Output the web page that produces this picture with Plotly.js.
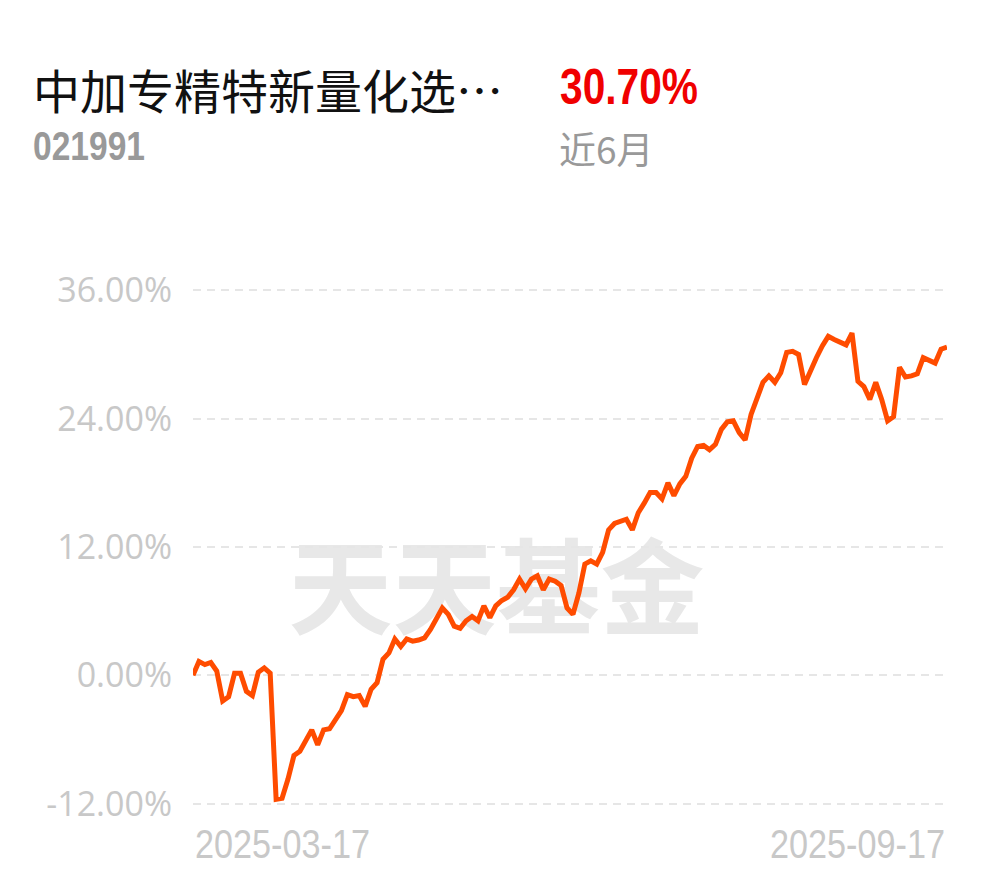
<!DOCTYPE html>
<html>
<head>
<meta charset="utf-8">
<script src="https://cdn.plot.ly/plotly-3.0.1.min.js"></script>
<style>
html,body{margin:0;padding:0;background:#fff;}
#chart{width:990px;height:878px;}
</style>
</head>
<body>
<div id="chart"></div>
<script>
// ---- data ----
const fundName = "中加专精特新量化选…";
const fundCode = "021991";
const periodReturn = "30.70%";
const periodLabel = "近6月";
const watermark = "天天基金";
const xTickLabels = ["2025-03-17", "2025-09-17"];
const yTickVals = [-12, 0, 12, 24, 36];
const yTickText = ["-12.00%", "0.00%", "12.00%", "24.00%", "36.00%"];
// cumulative return (%) per trading day, 2025-03-17 .. 2025-09-17
const returns = [
  0.0, 1.3, 1.0, 1.2, 0.4, -2.4, -2.0, 0.2, 0.2, -1.5,
  -1.9, 0.3, 0.7, 0.2, -11.6, -11.5, -9.7, -7.5, -7.1, -6.0,
  -5.1, -6.5, -5.1, -5.0, -4.1, -3.3, -1.8, -2.0, -1.9, -2.9,
  -1.3, -0.7, 1.5, 2.1, 3.4, 2.7, 3.4, 3.2, 3.3, 3.5,
  4.3, 5.2, 6.3, 5.7, 4.6, 4.4, 5.1, 5.5, 5.1, 6.5,
  5.4, 6.5, 7.0, 7.3, 8.0, 9.0, 8.1, 9.0, 9.3, 8.0,
  9.0, 8.8, 8.4, 6.3, 5.7, 7.7, 10.4, 10.7, 10.4, 11.5,
  13.6, 14.2, 14.4, 14.6, 13.6, 15.2, 16.1, 17.1, 17.1, 16.5,
  18.0, 16.8, 17.9, 18.6, 20.3, 21.4, 21.5, 21.1, 21.6, 23.0,
  23.7, 23.8, 22.7, 22.0, 24.4, 25.9, 27.4, 28.0, 27.4, 28.3,
  30.2, 30.3, 30.0, 27.2, 28.6, 29.7, 30.8, 31.7, 31.4, 31.1,
  30.9, 32.0, 27.5, 27.0, 25.8, 27.4, 25.8, 23.8, 24.2, 28.8,
  27.9, 28.0, 28.2, 29.7, 29.5, 29.2, 30.5, 30.7
];
const days = returns.map((_, i) => i);

// ---- layout helpers (pixel -> paper) ----
const W = 990, H = 878;
const M = {l: 193, r: 43, t: 285, b: 69};
const pw = W - M.l - M.r, ph = H - M.t - M.b;
const px = x => (x - M.l) / pw;
const py = y => (H - M.b - y) / ph;

const CJK = '"Noto Sans CJK SC", "Noto Sans", sans-serif';
const SANS = '"Liberation Sans", Arial, sans-serif';
const gray = '#c8c8c8';

const trace = {
  x: days,
  y: returns,
  type: 'scatter',
  mode: 'lines',
  line: {color: '#ff4c00', width: 5, shape: 'linear'},
  hoverinfo: 'skip'
};

const layout = {
  width: W, height: H,
  margin: M,
  paper_bgcolor: '#ffffff',
  plot_bgcolor: 'rgba(0,0,0,0)',
  showlegend: false,
  xaxis: {
    range: [0, days.length - 1],
    showgrid: false, zeroline: false, showline: false,
    showticklabels: false, ticks: '', fixedrange: true
  },
  yaxis: {
    range: [-12.5, 36.5],
    tickvals: yTickVals, ticktext: yTickText,
    showgrid: true, gridcolor: '#e6e6e6', gridwidth: 2, griddash: '8px,6px',
    zeroline: false, showline: false, ticks: '',
    ticklabelstandoff: 20,
    tickfont: {family: '"Open Sans", "Noto Sans", sans-serif', size: 34, color: gray},
    fixedrange: true
  },
  shapes: [{
    type: 'rect', xref: 'paper', yref: 'paper', layer: 'below',
    x0: px(285), x1: px(708), y0: py(646), y1: py(551),
    line: {width: 0}, fillcolor: 'rgba(0,0,0,0)',
    label: {text: watermark, textposition: 'middle center',
      font: {family: CJK, size: 104, color: '#e8e8e8', weight: 700}}
  }],
  annotations: [
    {text: fundName, xref: 'paper', yref: 'paper', x: px(31), y: py(88),
     xanchor: 'left', yanchor: 'middle', showarrow: false,
     font: {family: CJK, size: 47, color: '#111111'}},
    {text: periodReturn, xref: 'paper', yref: 'paper', x: px(557), y: py(87),
     xanchor: 'left', yanchor: 'middle', showarrow: false,
     font: {family: SANS, size: 50, color: '#f00000', weight: 700}},
    {text: fundCode, xref: 'paper', yref: 'paper', x: px(30), y: py(146),
     xanchor: 'left', yanchor: 'middle', showarrow: false,
     font: {family: SANS, size: 40, color: '#999999', weight: 700}},
    {text: periodLabel, xref: 'paper', yref: 'paper', x: px(557), y: py(148),
     xanchor: 'left', yanchor: 'middle', showarrow: false,
     font: {family: CJK, size: 37, color: '#999999'}},
    {text: xTickLabels[0], xref: 'x', yref: 'paper', x: 0, y: py(844),
     xanchor: 'left', yanchor: 'middle', showarrow: false,
     font: {family: SANS, size: 40, color: gray}},
    {text: xTickLabels[1], xref: 'x', yref: 'paper', x: days.length - 1, y: py(844),
     xanchor: 'right', yanchor: 'middle', showarrow: false,
     font: {family: SANS, size: 40, color: gray}}
  ]
};

// condensed look for the numeric labels (annotation index -> target width px)
const condensedWidth = {1: 138, 2: 112, 4: 175, 5: 175};
const startX = {1: 560, 2: 33, 4: 195};
const endX = {5: 945};

Plotly.newPlot('chart', [trace], layout, {displayModeBar: false, staticPlot: true}).then(gd => {
  const svg = gd.querySelector('svg.main-svg');
  gd.querySelectorAll('g.annotation').forEach(g => {
    const i = +g.getAttribute('data-index');
    if (!(i in condensedWidth)) return;
    const t = g.querySelector('text.annotation-text');
    if (!t) return;
    t.setAttribute('lengthAdjust', 'spacingAndGlyphs');
    t.setAttribute('textLength', condensedWidth[i]);
    // re-anchor in the text's own coordinates
    const bb = t.getBBox();
    const ctm = t.getCTM();
    const localX = sx => (sx - ctm.e) / ctm.a;
    if (i in startX) {
      t.setAttribute('text-anchor', 'start');
      t.setAttribute('x', localX(startX[i]));
    } else if (i in endX) {
      t.setAttribute('text-anchor', 'end');
      t.setAttribute('x', localX(endX[i]));
    }
  });
});
</script>
</body>
</html>
